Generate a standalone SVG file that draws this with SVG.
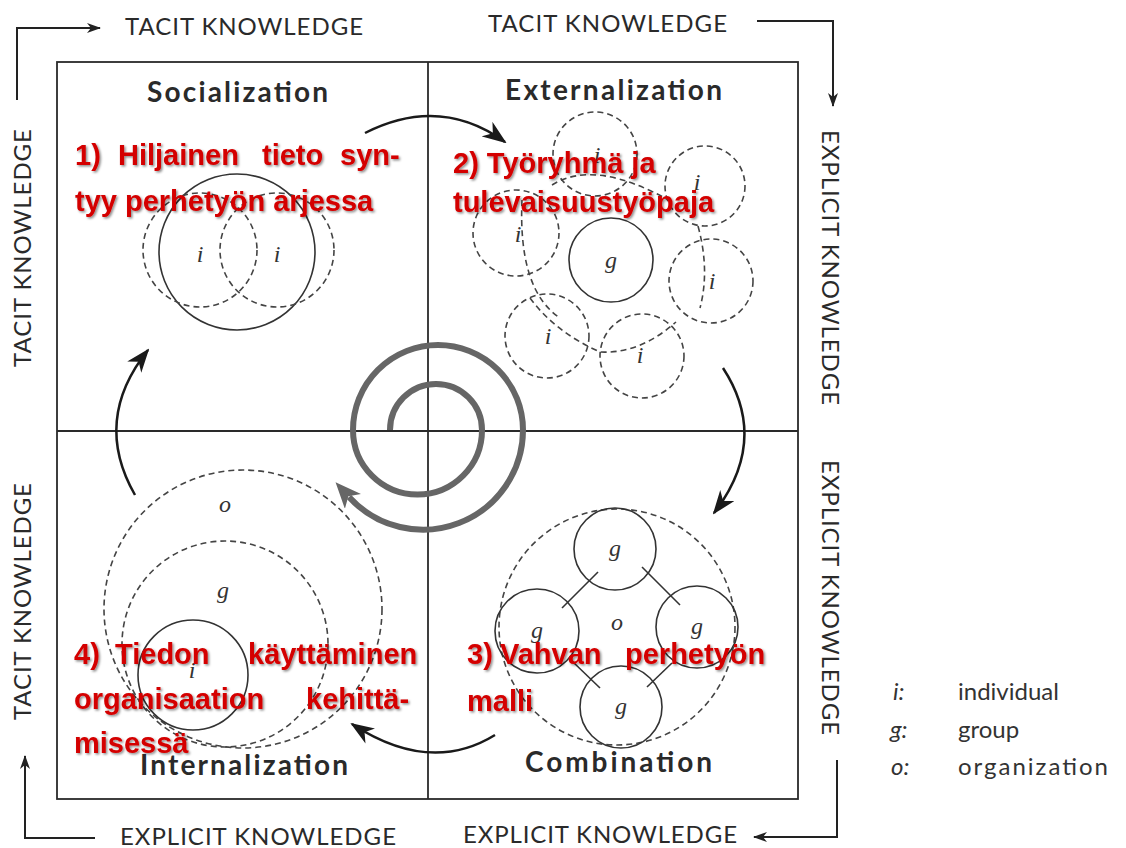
<svg xmlns="http://www.w3.org/2000/svg" width="1126" height="848" viewBox="0 0 1126 848">
<defs>
<style>
.frame{fill:none;stroke:#2a2a2a;stroke-width:1.8}
.axis{font-family:Lato,"Open Sans",sans-serif;font-size:24px;fill:#2a2a2a}
.title{font-family:Lato,"Open Sans",sans-serif;font-size:28px;font-weight:700;fill:#2a2a2a}
.red{font-family:"Liberation Sans",Arial,sans-serif;font-size:29px;font-weight:700;fill:#d40000}
.lbl{font-family:"Liberation Serif",serif;font-style:italic;font-size:24px;fill:#333;text-anchor:middle}
.dash{fill:none;stroke:#444;stroke-width:1.6;stroke-dasharray:6 4}
.solid{fill:none;stroke:#333;stroke-width:1.6}
.axl{fill:none;stroke:#222;stroke-width:2}
.cur{fill:none;stroke:#1a1a1a;stroke-width:2.5}
.spiral{fill:none;stroke:#666;stroke-width:6}
.leg{font-family:Lato,"Open Sans",sans-serif;font-size:24px;fill:#333}
.legi{font-family:Lato,"Open Sans",sans-serif;font-size:24px;font-style:italic;fill:#333}
</style>
<filter id="sh" x="-10%" y="-30%" width="120%" height="160%">
<feDropShadow dx="1.5" dy="1.5" stdDeviation="1.2" flood-color="#000" flood-opacity="0.45"/>
</filter>
<marker id="ax" markerUnits="userSpaceOnUse" markerWidth="14" markerHeight="10" refX="13" refY="5" orient="auto" viewBox="0 0 14 10">
<path d="M0,0 L14,5 L0,10 L4,5 z" fill="#222"/>
</marker>
<marker id="cv" markerUnits="userSpaceOnUse" markerWidth="24" markerHeight="18" refX="22" refY="9" orient="auto" viewBox="0 0 24 18">
<path d="M0,0 L24,9 L0,18 L7,9 z" fill="#1a1a1a"/>
</marker>
<marker id="sp" markerUnits="userSpaceOnUse" markerWidth="26" markerHeight="22" refX="6" refY="11" orient="auto" viewBox="0 0 26 22">
<path d="M0,0 L26,11 L0,22 L7,11 z" fill="#666"/>
</marker>
</defs>
<rect width="1126" height="848" fill="#fff"/>

<g id="frame">
<rect class="frame" x="57" y="62" width="741" height="737"/>
<line class="frame" x1="428" y1="62" x2="428" y2="799"/>
<line class="frame" x1="57" y1="431" x2="798" y2="431"/>
</g>

<g id="axes">
<polyline class="axl" points="17,100 17,28 100,28" marker-end="url(#ax)"/>
<polyline class="axl" points="757,21 833,21 833,106" marker-end="url(#ax)"/>
<polyline class="axl" points="837,760 837,837 754,837" marker-end="url(#ax)"/>
<polyline class="axl" points="95,838 25,838 25,756" marker-end="url(#ax)"/>
<text class="axis" x="125" y="35" textLength="238">TACIT KNOWLEDGE</text>
<text class="axis" x="488" y="32" textLength="239">TACIT KNOWLEDGE</text>
<text class="axis" x="120" y="845" textLength="276">EXPLICIT KNOWLEDGE</text>
<text class="axis" x="463" y="843" textLength="274">EXPLICIT KNOWLEDGE</text>
<text class="axis" transform="translate(31,367) rotate(-90)" textLength="238">TACIT KNOWLEDGE</text>
<text class="axis" transform="translate(31,720) rotate(-90)" textLength="237">TACIT KNOWLEDGE</text>
<text class="axis" transform="translate(822,130) rotate(90)" textLength="275">EXPLICIT KNOWLEDGE</text>
<text class="axis" transform="translate(822,460) rotate(90)" textLength="275">EXPLICIT KNOWLEDGE</text>
</g>

<g id="socialization">
<text class="title" x="147" y="102" textLength="181">Socialization</text>
<circle class="solid" cx="237" cy="252" r="78"/>
<circle class="dash" cx="200" cy="250" r="57"/>
<circle class="dash" cx="277" cy="250" r="57"/>
<text class="lbl" x="200" y="262">i</text>
<text class="lbl" x="277" y="262">i</text>
</g>

<g id="externalization">
<text class="title" x="505" y="100" textLength="217">Externalization</text>
<circle class="dash" cx="595" cy="154" r="42"/>
<circle class="dash" cx="705" cy="186" r="40"/>
<circle class="dash" cx="516" cy="233" r="43"/>
<circle class="dash" cx="711" cy="281" r="42"/>
<circle class="dash" cx="547" cy="336" r="42"/>
<circle class="dash" cx="642" cy="356" r="42"/>
<path class="dash" d="M552 185 Q595 158 672 202"/>
<path class="dash" d="M522 200 Q518 290 560 318"/>
<path class="dash" d="M530 298 Q555 332 600 352 Q640 354 676 322"/>
<path class="dash" d="M698 226 Q710 270 700 308"/>
<circle class="solid" cx="611" cy="260" r="42"/>
<text class="lbl" x="611" y="268">g</text>
<text class="lbl" x="597" y="163">i</text>
<text class="lbl" x="697" y="190">i</text>
<text class="lbl" x="518" y="242">i</text>
<text class="lbl" x="712" y="289">i</text>
<text class="lbl" x="548" y="344">i</text>
<text class="lbl" x="640" y="363">i</text>
</g>

<g id="combination">
<text class="title" x="525" y="772" textLength="187">Combination</text>
<circle class="dash" cx="617" cy="627" r="118"/>
<circle class="solid" cx="615" cy="549" r="41"/>
<circle class="solid" cx="537" cy="631" r="42"/>
<circle class="solid" cx="697" cy="627" r="41"/>
<circle class="solid" cx="621" cy="707" r="41"/>
<line class="solid" x1="598" y1="572" x2="562" y2="608"/>
<line class="solid" x1="642" y1="567" x2="680" y2="605"/>
<line class="solid" x1="573" y1="662" x2="600" y2="688"/>
<line class="solid" x1="647" y1="687" x2="672" y2="663"/>
<text class="lbl" x="615" y="556">g</text>
<text class="lbl" x="537" y="638">g</text>
<text class="lbl" x="697" y="634">g</text>
<text class="lbl" x="621" y="714">g</text>
<text class="lbl" x="617" y="630">o</text>
</g>

<g id="internalization">
<text class="title" x="140" y="775" textLength="208">Internalization</text>
<circle class="dash" cx="243" cy="609" r="139"/>
<circle class="dash" cx="225" cy="644" r="103"/>
<circle class="solid" cx="193" cy="675" r="55"/>
<text class="lbl" x="225" y="512">o</text>
<text class="lbl" x="223" y="598">g</text>
<text class="lbl" x="192" y="678">i</text>
</g>

<g id="connectors">
<path class="spiral" d="M390 430 A46 46 0 0 1 482 430 A64.5 64.5 0 0 1 353 430 A85 85 0 0 1 523 430 A100 100 0 0 1 349 497" marker-end="url(#sp)"/>
<path class="cur" d="M365 133 Q440 95 505 142" marker-end="url(#cv)"/>
<path class="cur" d="M723 368 Q770 440 714 513" marker-end="url(#cv)"/>
<path class="cur" d="M495 735 Q430 775 352 724" marker-end="url(#cv)"/>
<path class="cur" d="M135 495 Q92 420 148 350" marker-end="url(#cv)"/>
</g>

<g id="annotations" filter="url(#sh)">
<text class="red" y="165"><tspan x="75">1)</tspan><tspan x="118">Hiljainen</tspan><tspan x="262">tieto</tspan><tspan x="340">syn-</tspan></text>
<text class="red" x="75" y="211">tyy perhetyön arjessa</text>
<text class="red" x="453" y="173">2) Työryhmä ja</text>
<text class="red" x="453" y="212">tulevaisuustyöpaja</text>
<text class="red" y="664"><tspan x="467">3)</tspan><tspan x="500">Vahvan</tspan><tspan x="625">perhetyön</tspan></text>
<text class="red" x="467" y="711">malli</text>
<text class="red" y="664"><tspan x="74">4)</tspan><tspan x="115">Tiedon</tspan><tspan x="248">käyttäminen</tspan></text>
<text class="red" y="709"><tspan x="74">organisaation</tspan><tspan x="306">kehittä-</tspan></text>
<text class="red" x="74" y="753">misessä</text>
</g>

<g id="legend">
<text class="legi" x="893" y="700">i:</text><text class="leg" x="958" y="700">individual</text>
<text class="legi" x="890" y="738">g:</text><text class="leg" x="958" y="738">group</text>
<text class="legi" x="891" y="775">o:</text><text class="leg" x="958" y="775" textLength="150">organization</text>
</g>
</svg>
